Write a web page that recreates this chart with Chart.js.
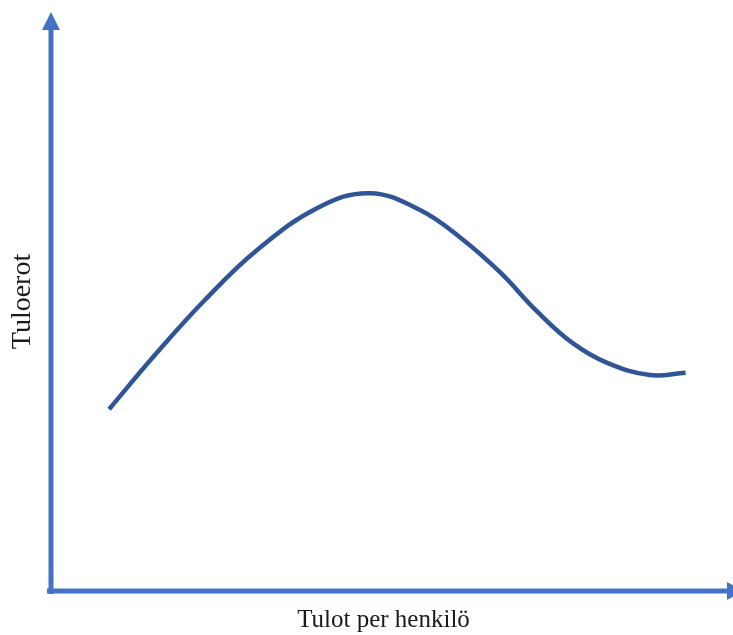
<!DOCTYPE html>
<html>
<head>
<meta charset="utf-8">
<script src="https://cdn.jsdelivr.net/npm/chart.js@4"></script>
<style>
  html, body { margin: 0; padding: 0; background: #ffffff; }
  #wrap { width: 733px; height: 635px; position: relative; }
</style>
</head>
<body>
<div id="wrap"><canvas id="c"></canvas></div>
<script>
// Data (x: income per person, y: income inequality)
const incomeX = [8.6, 15.4, 22.8, 30.5, 39.5, 47.2, 54.6, 60.5, 66.4, 72.0, 77.2, 82.3, 88.6, 93.9];
const inequalityY = [31.4, 40.8, 50.3, 58.9, 66.2, 68.7, 65.8, 61.1, 55.1, 48.2, 42.8, 39.4, 37.3, 37.7];
const xTitle = 'Tulot per henkilö';
const yTitle = 'Tuloerot';

const points = incomeX.map((x, i) => ({ x: x, y: inequalityY[i] }));

const axisArrows = {
  id: 'axisArrows',
  beforeDatasetsDraw(chart) {
    const ctx = chart.ctx;
    const a = chart.chartArea;
    const w = chart.width;
    const col = '#4472C4';
    ctx.save();
    ctx.strokeStyle = col;
    ctx.fillStyle = col;
    ctx.lineWidth = 5;
    ctx.lineCap = 'butt';
    // y axis shaft
    ctx.beginPath();
    ctx.moveTo(a.left, a.bottom + 3);
    ctx.lineTo(a.left, a.top + 16);
    ctx.stroke();
    // y arrow head
    ctx.beginPath();
    ctx.moveTo(a.left, a.top);
    ctx.lineTo(a.left - 9, a.top + 18);
    ctx.lineTo(a.left + 9, a.top + 18);
    ctx.closePath();
    ctx.fill();
    // x axis shaft
    ctx.beginPath();
    ctx.moveTo(a.left - 4, a.bottom);
    ctx.lineTo(w - 4, a.bottom);
    ctx.stroke();
    // x arrow head
    ctx.beginPath();
    ctx.moveTo(w + 11, a.bottom);
    ctx.lineTo(w - 6, a.bottom - 9);
    ctx.lineTo(w - 6, a.bottom + 9);
    ctx.closePath();
    ctx.fill();
    ctx.restore();
  }
};

new Chart(document.getElementById('c'), {
  type: 'line',
  data: {
    datasets: [{
      data: points,
      borderColor: '#2F5597',
      borderWidth: 4.5,
      pointRadius: 0,
      fill: false,
      tension: 0.4,
      borderCapStyle: 'butt'
    }]
  },
  options: {
    responsive: true,
    maintainAspectRatio: false,
    animation: false,
    layout: { padding: { left: 0, right: 17, top: 12, bottom: 0 } },
    plugins: { legend: { display: false }, tooltip: { enabled: false } },
    scales: {
      x: {
        type: 'linear', min: 0, max: 98.4,
        grid: { display: false, drawTicks: false },
        border: { display: false },
        ticks: { display: false },
        title: {
          display: true, text: xTitle, color: '#1a1a1a',
          font: { family: '"Liberation Serif", "Times New Roman", serif', size: 25 },
          padding: { top: 14, bottom: 0 }
        }
      },
      y: {
        type: 'linear', min: 0, max: 100,
        grid: { display: false, drawTicks: false },
        border: { display: false },
        ticks: { display: false },
        title: {
          display: true, text: yTitle, color: '#1a1a1a',
          font: { family: '"Liberation Serif", "Times New Roman", serif', size: 28 },
          padding: { top: 5.7, bottom: 11.7 }
        }
      }
    }
  },
  plugins: [axisArrows]
});
</script>
</body>
</html>
